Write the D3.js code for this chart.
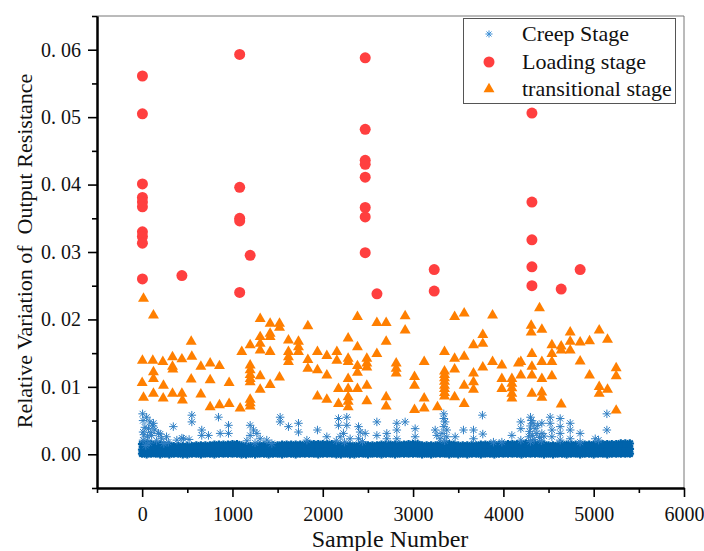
<!DOCTYPE html>
<html>
<head>
<meta charset="utf-8">
<script src="https://cdn.jsdelivr.net/npm/d3@7"></script>
<style>
  body { margin: 0; background: #fff; }
  svg { display: block; }
</style>
</head>
<body>
<svg id="chart" width="704" height="551"></svg>
<script>
// ---- data ----
const seriesNames = ["Creep Stage", "Loading stage", "transitional stage"];
const xTicks = [0, 1000, 2000, 3000, 4000, 5000, 6000];
const xMinorTicks = [-500, 500, 1500, 2500, 3500, 4500, 5500];
const yTicks = [0, 0.01, 0.02, 0.03, 0.04, 0.05, 0.06];
const yMinorTicks = [-0.005, 0.005, 0.015, 0.025, 0.035, 0.045, 0.055, 0.065];

// creep stage: the dense band, one value every 50 samples, in units of 1e-4
const bandStep = 50;
const creepBandTop = [15,16,15,14,14,13,13,12,12,12, 12,12,13,13,13,13,14,14,14,14,
  15,15,13,12,12,12,13,13,13,13, 13,14,14,14,14,14,14,15,15,15,
  15,15,15,14,13,13,13,12,13,13, 13,13,13,14,14,14,14,14,14,15,
  15,15,13,13,13,13,14,14,15,14, 13,13,13,13,13,14,14,14,14,14,
  14,15,15,15,15,16,16,15,15,14, 13,13,13,14,14,14,14,14,14,14,
  14,15,15,15,15,15,16,16,16];
const creepBandMid = [7,8,7,7,6,7,6,6,7,6, 6,7,7,6,7,7,7,8,7,7,
  8,7,6,6,7,6,7,7,6,7, 7,7,8,7,7,8,7,8,8,7,
  8,8,7,7,6,7,6,6,7,7, 6,7,7,7,8,7,7,8,7,8,
  8,7,6,7,6,7,7,8,7,7, 6,7,6,7,7,7,8,7,7,8,
  7,8,8,8,7,8,9,8,8,7, 7,6,7,7,7,8,7,7,8,7,
  7,8,8,7,8,8,8,9,8];
const creepBandBase = [1,0,1,1,0,1,0,1,1,0, 0,1,1,0,1,1,0,1,1,1,
  1,1,0,0,1,0,1,1,0,1, 1,0,1,1,0,1,1,1,1,0,
  1,1,1,0,0,1,0,0,1,1, 0,1,1,0,1,1,0,1,1,1,
  1,1,0,1,0,1,1,1,0,1, 0,1,0,1,1,0,1,1,0,1,
  1,1,1,1,0,1,1,1,1,0, 1,0,1,1,0,1,1,0,1,1,
  0,1,1,0,1,1,1,1,1];

// creep stage: scattered points above the band [sample, value]
const creepOutliers = [
  [5,0.0060],[10,0.0050],[85,0.0048],[125,0.0046],[70,0.0038],[10,0.0033],[140,0.0036],
  [180,0.0031],[105,0.0028],[215,0.0023],[270,0.0026],[345,0.0041],[290,0.0018],[10,0.0021],
  [40,0.0013],[60,0.0026],[30,0.0040],[95,0.0032],[160,0.0020],[50,0.0055],[120,0.0042],
  [200,0.0030],[240,0.0016],[20,0.0029],[75,0.0017],
  [550,0.0058],[550,0.0048],[660,0.0036],[660,0.0028],[734,0.0028],[845,0.0055],[864,0.0031],
  [956,0.0043],[956,0.0031],[457,0.0023],[384,0.0021],[440,0.0024],[520,0.0022],
  [1196,0.0043],[1233,0.0036],[1270,0.0031],[1196,0.0028],[1307,0.0023],[1380,0.0021],
  [1436,0.0016],[1160,0.0020],[1250,0.0017],
  [1528,0.0055],[1528,0.0048],[1620,0.0041],[1731,0.0046],[1731,0.0033],[1824,0.0021],
  [1941,0.0036],[2045,0.0026],
  [2174,0.0053],[2174,0.0043],[2266,0.0055],[2266,0.0043],[2229,0.0031],[2193,0.0026],
  [2303,0.0023],[2150,0.0020],[2240,0.0018],
  [2396,0.0041],[2414,0.0033],[2470,0.0031],[2396,0.0023],[2440,0.0019],
  [2599,0.0048],[2599,0.0028],[2709,0.0031],[2709,0.0023],
  [2820,0.0046],[2912,0.0048],[2820,0.0036],[2820,0.0023],[3023,0.0038],[3023,0.0026],
  [3245,0.0036],[3263,0.0028],[3300,0.0023],
  [3340,0.0060],[3340,0.0053],[3355,0.0048],[3340,0.0041],[3373,0.0036],[3320,0.0031],
  [3373,0.0026],[3350,0.0020],
  [3466,0.0026],[3558,0.0036],[3669,0.0036],[3669,0.0023],
  [3768,0.0058],[3772,0.0030],[3890,0.0018],[3983,0.0018],[4094,0.0028],
  [4193,0.0048],[4193,0.0038],[4193,0.0021],
  [4300,0.0055],[4310,0.0050],[4330,0.0046],[4300,0.0042],[4350,0.0038],[4290,0.0034],
  [4370,0.0031],[4320,0.0028],[4400,0.0025],[4340,0.0022],[4420,0.0020],[4300,0.0019],
  [4426,0.0046],[4426,0.0031],[4380,0.0043],[4450,0.0027],[4280,0.0026],
  [4518,0.0055],[4518,0.0046],[4537,0.0036],[4537,0.0026],
  [4629,0.0053],[4629,0.0041],[4629,0.0031],[4629,0.0021],
  [4740,0.0046],[4740,0.0036],[4740,0.0023],[4850,0.0031],[4850,0.0018],
  [5017,0.0023],[5054,0.0021],[5146,0.0060],[5146,0.0036]
];

// loading stage [sample, value]
const loadingPoints = [
  [3,0.0561],[3,0.0505],[3,0.0401],[3,0.0381],[3,0.0374],[3,0.0367],[3,0.0330],[3,0.0323],
  [3,0.0313],[3,0.0260],
  [440,0.0265],
  [1080,0.0593],[1080,0.0396],[1080,0.0350],[1080,0.0346],[1080,0.0240],
  [1196,0.0295],
  [2470,0.0588],[2470,0.0482],[2470,0.0436],[2470,0.0430],[2470,0.0411],[2470,0.0366],
  [2470,0.0352],[2470,0.0299],
  [2600,0.0238],
  [3234,0.0274],[3234,0.0242],
  [4316,0.0506],[4316,0.0374],[4316,0.0318],[4316,0.0278],[4316,0.0250],
  [4640,0.0245],
  [4850,0.0274]
];

// transitional stage [sample, value]
const transitionalPoints = [
  [15,0.0231],[125,0.0206],[543,0.0167],
  [3,0.0139],[118,0.0139],[229,0.0137],[336,0.0144],[336,0.0130],[340,0.0126],[440,0.0141],
  [550,0.0145],[125,0.0122],[125,0.0112],[650,0.0130],[753,0.0135],[856,0.0131],
  [0,0.0106],[236,0.0102],[543,0.0111],[753,0.0110],[963,0.0106],
  [15,0.0084],[125,0.0090],[233,0.0083],[336,0.0090],[440,0.0090],[446,0.0080],[650,0.0089],
  [753,0.0070],[856,0.0073],[963,0.0075],[1085,0.0068],
  [1196,0.0081],[1196,0.0076],[1196,0.0071],
  [1196,0.0132],[1196,0.0125],[1196,0.0118],[1196,0.0112],[1196,0.0107],
  [1103,0.0152],[1196,0.0162],[1307,0.0201],[1307,0.0174],[1307,0.0164],[1307,0.0154],
  [1417,0.0194],[1417,0.0179],[1417,0.0174],[1417,0.0152],[1521,0.0194],[1521,0.0188],
  [1307,0.0116],[1307,0.0096],[1417,0.0103],[1521,0.0114],
  [1620,0.0169],[1620,0.0152],[1620,0.0144],[1620,0.0137],
  [1731,0.0167],[1731,0.0159],[1731,0.0152],
  [1835,0.0190],[1835,0.0140],[1835,0.0127],
  [1941,0.0152],[1941,0.0125],[1941,0.0086],
  [2045,0.0146],[2045,0.0117],[2045,0.0081],
  [2156,0.0152],[2156,0.0139],
  [2281,0.0172],[2281,0.0142],[2281,0.0137],[2281,0.0112],[2281,0.0097],[2281,0.0085],
  [2281,0.0078],[2281,0.0070],
  [2384,0.0204],[2384,0.0159],[2384,0.0131],[2384,0.0121],[2384,0.0097],
  [2174,0.0097],[2174,0.0075],
  [2488,0.0142],[2488,0.0135],[2488,0.0129],[2488,0.0102],[2488,0.0079],
  [2599,0.0195],[2702,0.0195],[2599,0.0149],[2702,0.0167],[2702,0.0085],[2702,0.0071],
  [2813,0.0135],[2813,0.0127],[2813,0.0120],
  [2912,0.0205],[2912,0.0184],
  [3016,0.0115],[3016,0.0102],[3016,0.0066],
  [3123,0.0137],[3123,0.0083],[3123,0.0068],
  [3270,0.0070],
  [3348,0.0152],[3348,0.0123],[3348,0.0118],[3348,0.0113],[3348,0.0108],[3348,0.0102],
  [3348,0.0097],[3348,0.0091],[3348,0.0086],
  [3460,0.0204],[3566,0.0209],[3460,0.0142],[3460,0.0126],[3566,0.0145],[3460,0.0085],
  [3566,0.0102],[3566,0.0075],
  [3669,0.0162],[3772,0.0177],[3772,0.0164],[3669,0.0120],[3669,0.0107],[3669,0.0096],
  [3772,0.0129],
  [3880,0.0206],[3880,0.0137],
  [3983,0.0132],[3983,0.0112],[3983,0.0097],
  [4094,0.0112],[4094,0.0105],[4094,0.0098],[4094,0.0090],[4094,0.0083],
  [4167,0.0135],
  [4400,0.0217],[4308,0.0191],[4308,0.0181],[4426,0.0185],
  [4193,0.0137],[4193,0.0117],
  [4316,0.0149],[4316,0.0130],[4316,0.0117],[4316,0.0090],
  [4426,0.0137],[4426,0.0112],[4426,0.0092],[4426,0.0084],
  [4537,0.0162],[4537,0.0149],[4537,0.0137],[4537,0.0116],
  [4640,0.0160],[4640,0.0154],[4640,0.0074],
  [4740,0.0181],[4740,0.0167],[4740,0.0154],
  [4850,0.0166],[4850,0.0138],
  [4954,0.0168],[4954,0.0117],
  [5061,0.0184],[5061,0.0100],[5061,0.0090],
  [5153,0.0170],[5153,0.0096],
  [5249,0.0128],[5249,0.0116],[5249,0.0065]
];

// ---- chart ----
const W = 704, H = 551;
const margin = {top: 16, right: 20, bottom: 63, left: 97};
const fontFamily = '"Liberation Serif", "Times New Roman", serif';
const bandBlue = "#0063ab", blue = "#2f7fc4", red = "#ff3f3f", orange = "#ff7f00";

const svg = d3.select("#chart");

const x = d3.scaleLinear().domain([-500, 6000]).range([margin.left, W - margin.right]);
const y = d3.scaleLinear().domain([-0.005, 0.065]).range([H - margin.bottom, margin.top]);

// 8-armed asterisk like the original marker
const asterisk = {
  draw(ctx, size) {
    const r = Math.sqrt(size) / 2, d = r * Math.SQRT1_2;
    ctx.moveTo(-r, 0); ctx.lineTo(r, 0);
    ctx.moveTo(0, -r); ctx.lineTo(0, r);
    ctx.moveTo(-d, -d); ctx.lineTo(d, d);
    ctx.moveTo(-d, d); ctx.lineTo(d, -d);
  }
};

// creep band rows (very dense in the original, so drawn heavier)
const creepBand = [];
[creepBandBase, creepBandMid, creepBandTop].forEach(row => {
  row.forEach((v, i) => creepBand.push([i * bandStep, v / 1e4]));
});

const plot = svg.append("g");

plot.append("g")
  .selectAll("path")
  .data(creepBand)
  .join("path")
  .attr("transform", d => `translate(${x(d[0])},${y(d[1])})`)
  .attr("d", d3.symbol().type(asterisk).size(72))
  .attr("fill", "none")
  .attr("stroke", bandBlue)
  .attr("stroke-width", 2.2);

plot.append("g")
  .selectAll("path")
  .data(creepOutliers)
  .join("path")
  .attr("transform", d => `translate(${x(d[0])},${y(d[1])})`)
  .attr("d", d3.symbol().type(asterisk).size(72))
  .attr("fill", "none")
  .attr("stroke", blue)
  .attr("stroke-width", 1);

plot.append("g")
  .selectAll("path")
  .data(loadingPoints)
  .join("path")
  .attr("transform", d => `translate(${x(d[0])},${y(d[1])})`)
  .attr("d", d3.symbol().type(d3.symbolCircle).size(95))
  .attr("fill", red);

plot.append("g")
  .selectAll("path")
  .data(transitionalPoints)
  .join("path")
  .attr("transform", d => `translate(${x(d[0])},${y(d[1])})`)
  .attr("d", d3.symbol().type(d3.symbolTriangle).size(52))
  .attr("fill", orange);

// frame: thin grey top / right
svg.append("line")
  .attr("x1", margin.left).attr("x2", W - margin.right)
  .attr("y1", margin.top).attr("y2", margin.top)
  .attr("stroke", "#777").attr("stroke-width", 1);
svg.append("line")
  .attr("x1", W - margin.right).attr("x2", W - margin.right)
  .attr("y1", margin.top).attr("y2", H - margin.bottom)
  .attr("stroke", "#777").attr("stroke-width", 1);

// axes
const xAxisMinor = svg.append("g")
  .attr("transform", `translate(0,${H - margin.bottom})`)
  .call(d3.axisBottom(x).tickValues(xMinorTicks).tickSize(5).tickSizeOuter(0).tickFormat(""));
const xAxis = svg.append("g")
  .attr("transform", `translate(0,${H - margin.bottom})`)
  .call(d3.axisBottom(x).tickValues(xTicks).tickSize(9).tickSizeOuter(0).tickPadding(10)
    .tickFormat(d3.format("d")));

const yAxisMinor = svg.append("g")
  .attr("transform", `translate(${margin.left},0)`)
  .call(d3.axisLeft(y).tickValues(yMinorTicks).tickSize(5).tickSizeOuter(0).tickFormat(""));
const yAxis = svg.append("g")
  .attr("transform", `translate(${margin.left},0)`)
  .call(d3.axisLeft(y).tickValues(yTicks).tickSize(9).tickSizeOuter(0).tickPadding(7)
    .tickFormat(d => d3.format(".2f")(d).replace(".", ". ")));

[xAxis, xAxisMinor, yAxis, yAxisMinor].forEach(g => {
  g.select(".domain").attr("stroke", "#000").attr("stroke-width", 2);
  g.selectAll(".tick line").attr("stroke", "#000").attr("stroke-width", 1.6);
  g.selectAll("text")
    .attr("fill", "#111")
    .style("font-family", fontFamily)
    .style("font-size", "20px");
});

// axis titles
svg.append("text")
  .attr("x", 390).attr("y", 547)
  .attr("text-anchor", "middle")
  .style("font-family", fontFamily)
  .style("font-size", "24px")
  .attr("fill", "#111")
  .text("Sample Number");

svg.append("text")
  .attr("transform", "translate(32,251) rotate(-90)")
  .attr("text-anchor", "middle")
  .style("font-family", fontFamily)
  .style("font-size", "22px")
  .style("white-space", "pre")
  .attr("fill", "#111")
  .text("Relative Variation of  Output Resistance");

// legend
const legend = svg.append("g");
legend.append("rect")
  .attr("x", 463.5).attr("y", 18.5)
  .attr("width", 212).attr("height", 85)
  .attr("fill", "#fff")
  .attr("stroke", "#555").attr("stroke-width", 1);

const legendSymbols = [
  {type: asterisk, size: 50, fill: "none", stroke: "#3d8fd6"},
  {type: d3.symbolCircle, size: 95, fill: red, stroke: "none"},
  {type: d3.symbolTriangle, size: 52, fill: orange, stroke: "none"}
];
const legendRowY = [34, 62, 89];

const item = legend.selectAll("g.item")
  .data(seriesNames)
  .join("g")
  .attr("class", "item")
  .attr("transform", (d, i) => `translate(0,${legendRowY[i]})`);

item.append("path")
  .attr("transform", "translate(489,0)")
  .attr("d", (d, i) => d3.symbol().type(legendSymbols[i].type).size(legendSymbols[i].size)())
  .attr("fill", (d, i) => legendSymbols[i].fill)
  .attr("stroke", (d, i) => legendSymbols[i].stroke)
  .attr("stroke-width", 1);

item.append("text")
  .attr("x", 522).attr("y", 7)
  .style("font-family", fontFamily)
  .style("font-size", "22px")
  .attr("fill", "#111")
  .text(d => d);
</script>
</body>
</html>
